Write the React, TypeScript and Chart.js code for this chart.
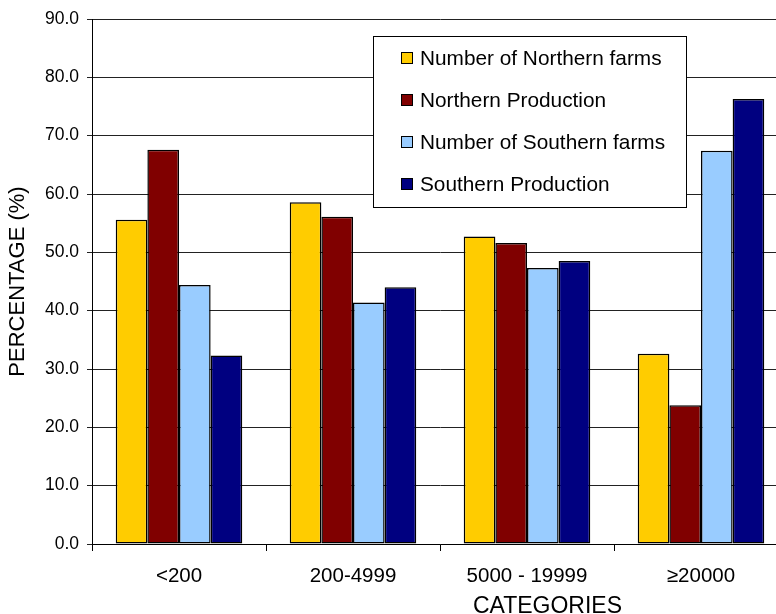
import React, { useEffect, useRef } from "react";
import { Chart, registerables } from "chart.js";

Chart.register(...registerables);

// Farm size classes
const categories = ["<200", "200-4999", "5000 - 19999", "≥20000"];

// Shares in percent per size class
const northernFarms = [55.6, 58.6, 52.7, 32.6];
const northernProduction = [67.6, 56.1, 51.6, 23.8];
const southernFarms = [44.4, 41.4, 47.3, 67.4];
const southernProduction = [32.3, 44.0, 48.5, 76.3];

const seriesNames = [
  "Number of Northern farms",
  "Northern Production",
  "Number of Southern farms",
  "Southern Production",
];
const seriesColors = ["#FFCC00", "#800000", "#99CCFF", "#000080"];

const yTicks = [0, 10, 20, 30, 40, 50, 60, 70, 80, 90];
const yTitle = "PERCENTAGE (%)";
const xTitle = "CATEGORIES";

const FONT = "'Liberation Sans', Arial, sans-serif";

// Boxed legend drawn inside the plot area
const boxedLegend = {
  id: "boxedLegend",
  afterDraw(chart: any) {
    const { ctx, chartArea } = chart;
    const x = chartArea.left + 281;
    const y = chartArea.top + 17;
    const w = 313;
    const h = 171;
    ctx.save();
    ctx.fillStyle = "#ffffff";
    ctx.fillRect(x, y, w, h);
    ctx.strokeStyle = "#000000";
    ctx.lineWidth = 1;
    ctx.strokeRect(Math.round(x) + 0.5, Math.round(y) + 0.5, w, h);
    ctx.font = `20.8px ${FONT}`;
    ctx.textBaseline = "middle";
    ctx.textAlign = "left";
    chart.data.datasets.forEach((ds: any, i: number) => {
      const cy = y + 22 + i * 42;
      const sx = x + 28;
      const sy = Math.round(cy - 6);
      ctx.fillStyle = ds.backgroundColor;
      ctx.fillRect(sx, sy, 12, 12);
      ctx.strokeStyle = "#000";
      ctx.strokeRect(sx + 0.5, sy + 0.5, 11, 11);
      ctx.fillStyle = "#000";
      ctx.fillText(ds.label, x + 47, cy + 1);
    });
    ctx.restore();
  },
};

// Category axis title, placed below the tick labels
const categoryTitle = {
  id: "categoryTitle",
  afterDraw(chart: any) {
    const { ctx } = chart;
    ctx.save();
    ctx.font = `23px ${FONT}`;
    ctx.fillStyle = "#000";
    ctx.textAlign = "center";
    ctx.textBaseline = "alphabetic";
    ctx.fillText(xTitle, 547.5, 612.5);
    ctx.restore();
  },
};

export default function App() {
  const canvasRef = useRef<HTMLCanvasElement | null>(null);

  useEffect(() => {
    if (!canvasRef.current) return;
    const data = [northernFarms, northernProduction, southernFarms, southernProduction];
    const chart = new Chart(canvasRef.current, {
      type: "bar",
      data: {
        labels: categories,
        datasets: data.map((values, i) => ({
          label: seriesNames[i],
          data: values,
          backgroundColor: seriesColors[i],
          borderColor: "#000000",
          borderWidth: 1.5,
          borderSkipped: false,
          barPercentage: 1,
          categoryPercentage: 4 / 5.5,
        })),
      },
      options: {
        responsive: false,
        animation: false,
        devicePixelRatio: 1,
        layout: { padding: { top: 19, right: 12, bottom: 0, left: 0 } },
        plugins: {
          legend: { display: false },
          tooltip: { enabled: false },
        },
        scales: {
          x: {
            grid: {
              display: true,
              drawOnChartArea: false,
              drawTicks: true,
              tickLength: 7,
              color: "#000000",
              offset: true,
            },
            border: { display: true, color: "#000000", width: 1 },
            ticks: {
              color: "#000000",
              font: { family: FONT, size: 20.5 },
              padding: 13,
              maxRotation: 0,
              autoSkip: false,
            },
            afterFit(scale: any) {
              scale.height = 70;
            },
          },
          y: {
            min: 0,
            max: 90,
            afterBuildTicks(scale: any) {
              scale.ticks = yTicks.map((v) => ({ value: v }));
            },
            grid: {
              display: true,
              drawOnChartArea: true,
              drawTicks: true,
              tickLength: 5,
              color: "#222222",
            },
            border: { display: true, color: "#000000", width: 1 },
            ticks: {
              color: "#000000",
              font: { family: FONT, size: 17.5 },
              padding: 8,
              callback: (v: any) => Number(v).toFixed(1),
            },
            title: {
              display: true,
              text: yTitle,
              color: "#000000",
              font: { family: FONT, size: 22 },
              padding: { top: 5, bottom: 0 },
            },
            afterFit(scale: any) {
              scale.width = 92;
            },
          },
        },
      },
      plugins: [boxedLegend, categoryTitle],
    });
    return () => chart.destroy();
  }, []);

  return (
    <div
      style={{
        position: "fixed",
        left: 0,
        top: 0,
        width: 776,
        height: 614,
        overflow: "hidden",
        background: "#ffffff",
      }}
    >
      <canvas
        ref={canvasRef}
        width={800}
        height={614}
        style={{ width: 800, height: 614, display: "block" }}
      />
    </div>
  );
}
